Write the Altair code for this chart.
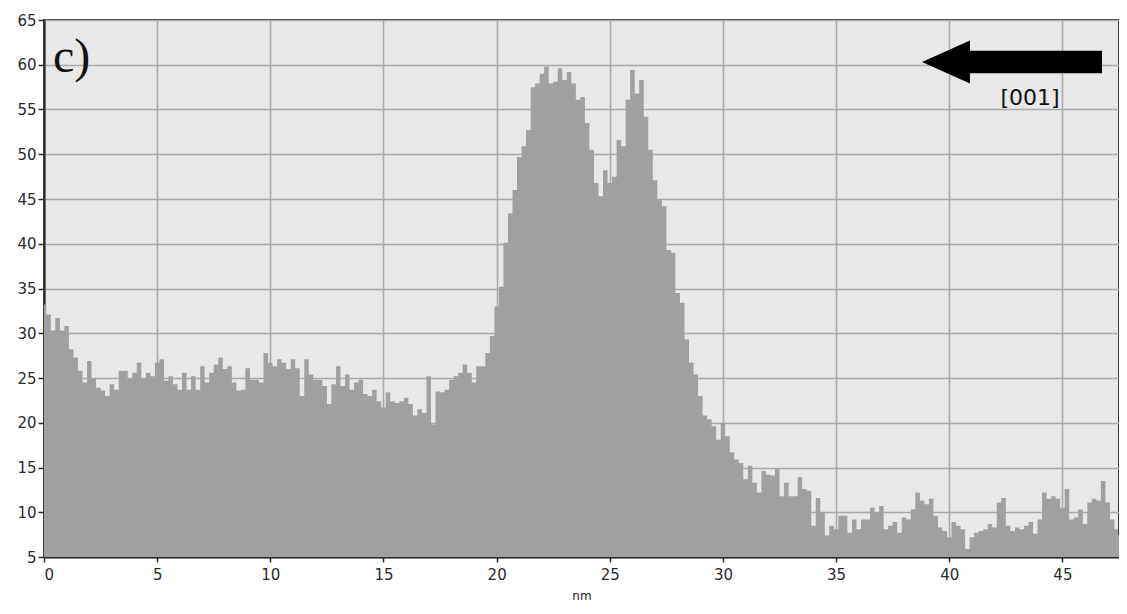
import altair as alt
import pandas as pd

# Profile values (height) every 0.2 nm, from 0.0 to 47.4 nm, then end at 47.5
profile = [
    33.2, 32.1, 30.3, 31.7, 30.3, 30.8, 28.2, 27.3, 25.8, 24.5,   # 0.0 - 1.8
    26.9, 25.0, 23.9, 23.6, 23.0, 24.3, 23.7, 25.8, 25.8, 24.9,   # 2.0 - 3.8
    25.6, 26.7, 24.9, 25.6, 25.2, 26.7, 27.1, 24.7, 25.2, 24.3,   # 4.0 - 5.8
    23.7, 25.6, 23.7, 25.2, 23.7, 26.3, 24.5, 25.6, 26.5, 27.3,   # 6.0 - 7.8
    26.0, 26.3, 24.5, 23.6, 23.7, 26.1, 24.8, 24.8, 24.5, 27.8,   # 8.0 - 9.8
    26.7, 26.3, 27.1, 26.7, 26.0, 27.1, 26.1, 23.0, 27.1, 25.4,   # 10.0 - 11.8
    24.8, 24.8, 24.1, 22.1, 24.3, 26.3, 24.1, 25.4, 23.7, 24.5,   # 12.0 - 13.8
    24.8, 23.2, 23.0, 23.7, 22.4, 21.7, 23.4, 22.4, 22.2, 22.4,   # 14.0 - 15.8
    22.8, 22.1, 20.8, 21.5, 21.1, 25.2, 19.8, 23.5, 23.4, 23.7,   # 16.0 - 17.8
    24.8, 25.2, 25.6, 26.5, 25.6, 24.5, 26.3, 26.3, 27.8, 29.7,   # 18.0 - 19.8
    33.0, 35.2, 40.1, 43.4, 46.0, 49.7, 50.9, 52.7, 57.5, 57.9,   # 20.0 - 21.8
    59.0, 59.8, 57.9, 58.1, 59.6, 58.3, 59.2, 57.9, 56.1, 56.4,   # 22.0 - 23.8
    53.5, 50.5, 46.8, 45.3, 48.2, 46.8, 47.5, 51.6, 50.9, 56.1,   # 24.0 - 25.8
    59.4, 56.8, 58.3, 54.2, 50.5, 47.1, 44.9, 44.2, 39.3, 39.0,   # 26.0 - 27.8
    34.5, 33.4, 29.3, 26.7, 25.4, 23.0, 20.8, 20.4, 19.6, 18.1,   # 28.0 - 29.8
    20.0, 18.5, 16.7, 15.9, 15.5, 13.7, 15.2, 13.3, 12.2, 14.6,   # 30.0 - 31.8
    14.2, 14.1, 14.8, 11.8, 13.3, 11.8, 11.8, 13.9, 12.6, 12.4,   # 32.0 - 33.8
    8.5, 11.6, 10.0, 7.4, 8.5, 8.1, 9.6, 9.6, 7.7, 9.2,           # 34.0 - 35.8
    8.1, 9.2, 9.2, 10.5, 10.0, 10.7, 8.1, 8.5, 8.9, 7.7,          # 36.0 - 37.8
    9.4, 9.2, 10.3, 12.2, 11.3, 10.9, 11.5, 9.6, 8.3, 7.9,        # 38.0 - 39.8
    7.2, 8.9, 8.5, 8.1, 5.9, 7.2, 7.7, 7.9, 8.1, 8.7,             # 40.0 - 41.8
    8.3, 11.1, 11.6, 8.5, 7.9, 8.3, 8.1, 8.5, 8.9, 7.6,           # 42.0 - 43.8
    9.2, 12.2, 11.5, 11.8, 11.5, 10.5, 12.6, 9.2, 9.4, 10.3,      # 44.0 - 45.8
    8.7, 11.1, 11.5, 11.3, 13.5, 11.1, 9.2, 8.1,                  # 46.0 - 47.4
    7.5,                                                          # 47.5
]
nm_step = 0.2
nm_end = 47.5
nm = [round(i * nm_step, 1) for i in range(len(profile) - 1)] + [nm_end]

x_ticks = [0, 5, 10, 15, 20, 25, 30, 35, 40, 45]
y_ticks = [5, 10, 15, 20, 25, 30, 35, 40, 45, 50, 55, 60, 65]

panel_label = "c)"
direction_label = "[001]"

df = pd.DataFrame({"nm": nm, "value": profile})

W, H = 1075, 537
FONT = "DejaVu Sans"

area = alt.Chart(df).mark_area(
    color="#a0a0a0", interpolate="step", opacity=1, clip=True
).encode(
    x=alt.X("nm:Q", scale=alt.Scale(domain=[0, nm_end], nice=False, zero=False),
            axis=alt.Axis(values=x_ticks, title="nm", format="d")),
    y=alt.Y("value:Q", scale=alt.Scale(domain=[5, 65], nice=False, zero=False),
            axis=alt.Axis(values=y_ticks, title=None, format="d")),
    y2=alt.datum(5),
)

one = pd.DataFrame({"k": [0]})

label = alt.Chart(one).mark_text(
    text=panel_label, font="Liberation Serif", fontSize=48, align="left",
    baseline="alphabetic", color="#111"
).encode(x=alt.value(9), y=alt.value(52))

arrow_path = ("M -1 0 L -0.467 -0.239 L -0.467 -0.126 L 1 -0.126 "
              "L 1 0.126 L -0.467 0.126 L -0.467 0.239 Z")
arrow = alt.Chart(one).mark_point(
    shape=arrow_path, size=32400, filled=True, color="black", opacity=1, strokeWidth=0
).encode(x=alt.value(968), y=alt.value(42))

dir_text = alt.Chart(one).mark_text(
    text=direction_label, font=FONT, fontSize=22, align="center",
    baseline="alphabetic", color="#111"
).encode(x=alt.value(986), y=alt.value(85))

chart = alt.layer(area, label, arrow, dir_text).properties(
    width=W, height=H,
    autosize=alt.AutoSizeParams(type="none"),
    padding={"left": 36, "top": 12, "right": 0, "bottom": 44},
    background="white",
).configure_view(
    fill="#e8e8e8", stroke="#3a3a3a", strokeWidth=2
).configure_axis(
    grid=True, gridColor="#a9a9a9", gridWidth=1.6,
    domainColor="#2a2a2a", domainWidth=2.2,
    tickColor="#2a2a2a", tickWidth=1.5,
    labelFont=FONT, labelFontSize=15, labelColor="#2b2b2b",
    titleFont=FONT, titleFontSize=12, titleFontWeight="normal", titleColor="#222",
).configure_axisX(
    tickSize=5, labelPadding=5, titlePadding=8,
).configure_axisY(
    tickSize=6, labelPadding=2,
)

chart.save("out.html", embed_options={"renderer": "svg", "actions": False})
